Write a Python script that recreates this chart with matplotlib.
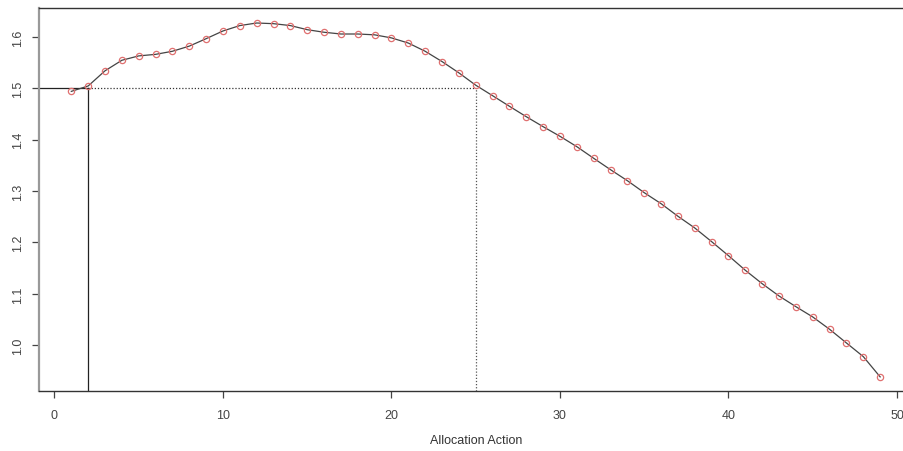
import matplotlib.pyplot as plt

plt.rcParams['font.family'] = ['Liberation Sans', 'DejaVu Sans']

# Allocation action index and value
actions = list(range(1, 50))
values = [
    1.494, 1.5045, 1.534, 1.5545, 1.563, 1.566, 1.572, 1.582, 1.5965, 1.6115,
    1.622, 1.627, 1.6257, 1.622, 1.614, 1.609, 1.6056, 1.6056, 1.604, 1.598,
    1.588, 1.572, 1.552, 1.530, 1.506, 1.4856, 1.465, 1.4447, 1.4253, 1.4066,
    1.3864, 1.3638, 1.3416, 1.3202, 1.2969, 1.2755, 1.251, 1.2282, 1.2016, 1.1743,
    1.1459, 1.1198, 1.0959, 1.0751, 1.0551, 1.0311, 1.0045, 0.978, 0.9385,
]
threshold = 1.5
first_cross = 2
last_cross = 25

x_ticks = [0, 10, 20, 30, 40, 50]
y_ticks = [1.0, 1.1, 1.2, 1.3, 1.4, 1.5, 1.6]
x_lim = (-0.92, 50.92)
y_lim = (0.911, 1.6562)

fig = plt.figure(figsize=(9.04, 4.52), dpi=100)
ax = fig.add_axes([0.0431, 0.1327, 0.9663, 0.8474])

# curve with open circle markers
ax.plot(actions, values, color="#444444", linewidth=0.9, zorder=3)
ax.plot(actions, values, linestyle="none", marker="o", markersize=4.5,
        markerfacecolor="none", markeredgecolor="#e07070", markeredgewidth=0.9, zorder=4)

# threshold guides
ax.plot([x_lim[0], first_cross], [threshold, threshold], color="#222222", linewidth=0.9)
ax.plot([first_cross, first_cross], [y_lim[0], threshold], color="#222222", linewidth=0.9)
ax.plot([first_cross, last_cross], [threshold, threshold], color="#333333",
        linewidth=0.9, linestyle=(0, (1, 1.5)))
ax.plot([last_cross, last_cross], [y_lim[0], threshold], color="#555555",
        linewidth=0.9, linestyle=(0, (1, 1.5)))

ax.set_xlim(*x_lim)
ax.set_ylim(*y_lim)
ax.set_xticks(x_ticks)
ax.set_yticks(y_ticks)
ax.set_yticklabels([f"{v:.1f}" for v in y_ticks], rotation=90, va="center")
ax.tick_params(axis="both", colors="#444444", labelcolor="#444444", labelsize=9,
               length=5, width=0.9, direction="out")
ax.tick_params(axis="x", pad=8)
ax.tick_params(axis="y", pad=6)

ax.spines["left"].set_color("#999999")
ax.spines["left"].set_linewidth(1.6)
for side in ["top", "bottom", "right"]:
    ax.spines[side].set_color("#333333")
    ax.spines[side].set_linewidth(1.0)

ax.set_xlabel("Allocation Action", fontsize=9, color="#333333", labelpad=9)

fig.savefig("out.png", dpi=100)
